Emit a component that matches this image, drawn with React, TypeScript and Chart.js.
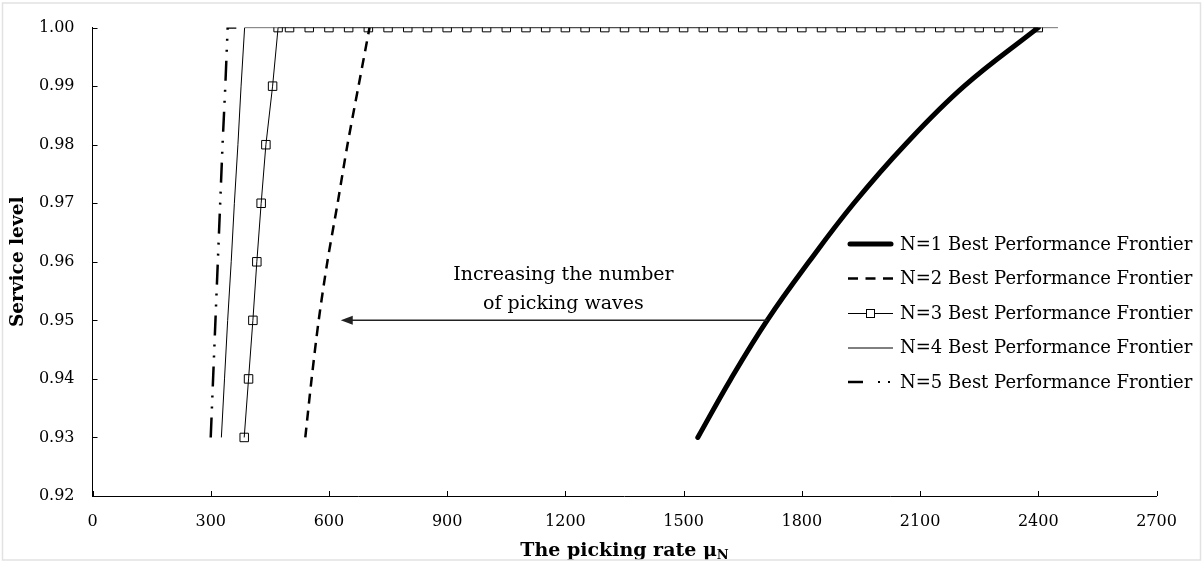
import React, { useEffect, useRef } from 'react';
import { Chart, registerables } from 'chart.js';

Chart.register(...registerables);

// ---- data ----
const serviceLevels = [0.93, 0.94, 0.95, 0.96, 0.97, 0.98, 0.99, 1.0];
const n1Rates = [1536, 1620, 1712, 1818, 1932, 2062, 2212, 2400];
const n2Rates = [540, 556, 574, 596, 622, 647, 675, 703];
const n3Rates = [385, 396, 407, 417, 428, 440, 457, 471];
const n3FlatRates = [
  500, 550, 600, 650, 700, 750, 800, 850, 900, 950, 1000, 1050, 1100, 1150,
  1200, 1250, 1300, 1350, 1400, 1450, 1500, 1550, 1600, 1650, 1700, 1750,
  1800, 1850, 1900, 1950, 2000, 2050, 2100, 2150, 2200, 2250, 2300, 2350, 2400,
];
const n4Rates = [327, 335, 343, 352, 360, 369, 377, 386];
const n4FlatEnd = [2450];
const n5Rates = [300, 306, 312, 318, 324, 330, 337, 343];
const n5FlatEnd = [365];
const fullLevel = 1.0;

const seriesLabels = [
  'N=1 Best Performance Frontier',
  'N=2 Best Performance Frontier',
  'N=3 Best Performance Frontier',
  'N=4 Best Performance Frontier',
  'N=5 Best Performance Frontier',
];
const xTicks = [0, 300, 600, 900, 1200, 1500, 1800, 2100, 2400, 2700];
const yTicks = [0.92, 0.93, 0.94, 0.95, 0.96, 0.97, 0.98, 0.99, 1.0];
const annotationLines = ['Increasing the number', 'of picking waves'];
const annotationPos = { x: 1195, y1: 0.9577, y2: 0.9528 };
const arrowLevel = 0.95;
const arrowHeadRate = 630;
const xTitle = 'The picking rate μ';
const xTitleSub = 'N';
const yTitle = 'Service level';

const FONT = 'DejaVu Serif';

const pts = (xs: number[], ys: number[]) => xs.map((x, i) => ({ x, y: ys[i] }));
const flat = (xs: number[]) => xs.map((x) => ({ x, y: fullLevel }));

const N5_DASH = [20, 9, 2, 9, 2, 9];

const decorPlugin = {
  id: 'decor',
  afterDraw(chart: any) {
    const { ctx, chartArea, scales } = chart;
    const xs = scales.x;
    const ys = scales.y;
    ctx.save();

    // inner tick marks
    ctx.strokeStyle = '#000';
    ctx.lineWidth = 1;
    ctx.setLineDash([]);
    xTicks.forEach((v) => {
      const px = Math.round(xs.getPixelForValue(v)) + 0.5;
      ctx.beginPath();
      ctx.moveTo(px, chartArea.bottom);
      ctx.lineTo(px, chartArea.bottom - 5);
      ctx.stroke();
    });
    yTicks.forEach((v) => {
      const py = Math.round(ys.getPixelForValue(v)) + 0.5;
      ctx.beginPath();
      ctx.moveTo(chartArea.left, py);
      ctx.lineTo(chartArea.left + 5, py);
      ctx.stroke();
    });

    // axis titles
    ctx.fillStyle = '#000';
    ctx.save();
    ctx.translate(18, (chartArea.top + chartArea.bottom) / 2);
    ctx.rotate(-Math.PI / 2);
    ctx.font = `bold 18.5px "${FONT}"`;
    ctx.textAlign = 'center';
    ctx.textBaseline = 'middle';
    ctx.fillText(yTitle, 0, 0);
    ctx.restore();

    ctx.font = `bold 19px "${FONT}"`;
    const mainW = ctx.measureText(xTitle).width;
    ctx.font = `bold 13px "${FONT}"`;
    const subW = ctx.measureText(xTitleSub).width;
    const cx = (chartArea.left + chartArea.right) / 2;
    const startX = cx - (mainW + subW) / 2;
    ctx.textAlign = 'left';
    ctx.textBaseline = 'alphabetic';
    ctx.font = `bold 19px "${FONT}"`;
    ctx.fillText(xTitle, startX, 556);
    ctx.font = `bold 13px "${FONT}"`;
    ctx.fillText(xTitleSub, startX + mainW, 559);

    // annotation text
    ctx.font = `19px "${FONT}"`;
    ctx.textAlign = 'center';
    ctx.textBaseline = 'middle';
    const ax = xs.getPixelForValue(annotationPos.x);
    ctx.fillText(annotationLines[0], ax, ys.getPixelForValue(annotationPos.y1));
    ctx.fillText(annotationLines[1], ax, ys.getPixelForValue(annotationPos.y2));

    // arrow
    const ay = ys.getPixelForValue(arrowLevel);
    const tailX = xs.getPixelForValue(n1Rates[serviceLevels.indexOf(arrowLevel)]);
    const headX = xs.getPixelForValue(arrowHeadRate);
    ctx.strokeStyle = '#222';
    ctx.fillStyle = '#222';
    ctx.lineWidth = 1.5;
    ctx.beginPath();
    ctx.moveTo(tailX, ay);
    ctx.lineTo(headX + 10, ay);
    ctx.stroke();
    ctx.beginPath();
    ctx.moveTo(headX, ay);
    ctx.lineTo(headX + 12, ay - 4.5);
    ctx.lineTo(headX + 12, ay + 4.5);
    ctx.closePath();
    ctx.fill();

    // legend
    const lx0 = 848;
    const lx1 = 893;
    ctx.strokeStyle = '#000';
    ctx.fillStyle = '#000';
    for (let i = 0; i < 5; i++) {
      const y = 244 + i * 34.5;
      ctx.setLineDash([]);
      ctx.lineCap = 'butt';
      if (i === 0) {
        ctx.lineWidth = 5;
        ctx.lineCap = 'round';
        ctx.beginPath();
        ctx.moveTo(lx0 + 2, y);
        ctx.lineTo(lx1 - 2, y);
        ctx.stroke();
      } else if (i === 1) {
        ctx.lineWidth = 2.5;
        ctx.setLineDash([10, 7.5]);
        ctx.beginPath();
        ctx.moveTo(lx0, y);
        ctx.lineTo(lx1, y);
        ctx.stroke();
      } else if (i === 2) {
        ctx.lineWidth = 1;
        ctx.beginPath();
        ctx.moveTo(lx0, y + 0.5);
        ctx.lineTo(lx1, y + 0.5);
        ctx.stroke();
        ctx.fillStyle = '#fff';
        ctx.fillRect(866.5, y - 3.5, 8, 8);
        ctx.strokeRect(866.5, y - 3.5, 8, 8);
        ctx.fillStyle = '#000';
      } else if (i === 3) {
        ctx.lineWidth = 1;
        ctx.beginPath();
        ctx.moveTo(lx0, y + 0.5);
        ctx.lineTo(lx1, y + 0.5);
        ctx.stroke();
      } else {
        ctx.lineWidth = 2.5;
        ctx.beginPath();
        ctx.moveTo(lx0, y);
        ctx.lineTo(lx0 + 15, y);
        ctx.stroke();
        ctx.fillRect(878, y - 1, 2, 2);
        ctx.fillRect(888, y - 1, 2, 2);
      }
      ctx.setLineDash([]);
      ctx.font = `18px "${FONT}"`;
      ctx.textAlign = 'left';
      ctx.textBaseline = 'middle';
      ctx.fillText(seriesLabels[i], 900, y + 1);
    }

    // outer frame
    ctx.strokeStyle = '#e2e2e2';
    ctx.lineWidth = 1.5;
    ctx.strokeRect(2.5, 3, 1198, 557);
    ctx.restore();
  },
};

export default function App() {
  const ref = useRef<HTMLCanvasElement | null>(null);

  useEffect(() => {
    document.body.style.margin = '0';
    if (!ref.current) return;
    const chart = new Chart(ref.current, {
      type: 'line',
      data: {
        datasets: [
          {
            label: seriesLabels[0],
            data: pts(n1Rates, serviceLevels),
            borderColor: '#000',
            borderWidth: 5,
            borderCapStyle: 'round',
            pointRadius: 0,
            tension: 0.4,
            fill: false,
          },
          {
            label: seriesLabels[1],
            data: pts(n2Rates, serviceLevels),
            borderColor: '#000',
            borderWidth: 2.5,
            borderDash: [10, 7],
            pointRadius: 0,
            tension: 0.3,
            fill: false,
          },
          {
            label: seriesLabels[2],
            data: [...pts(n3Rates, serviceLevels), ...flat(n3FlatRates)],
            borderColor: '#000',
            borderWidth: 1,
            pointStyle: 'rect',
            pointRadius: 6,
            pointBorderWidth: 1,
            pointBorderColor: '#000',
            pointBackgroundColor: 'rgba(0,0,0,0)',
            fill: false,
          },
          {
            label: seriesLabels[3],
            data: [...pts(n4Rates, serviceLevels), ...flat(n4FlatEnd)],
            borderColor: '#000',
            borderWidth: 1,
            pointRadius: 0,
            fill: false,
          },
          {
            label: seriesLabels[4],
            data: [...pts(n5Rates, serviceLevels), ...flat(n5FlatEnd)],
            borderColor: '#000',
            borderWidth: 2.5,
            borderDash: N5_DASH,
            pointRadius: 0,
            fill: false,
          },
        ],
      },
      options: {
        animation: false,
        responsive: false,
        devicePixelRatio: 1,
        layout: { padding: { left: 0, top: 23, right: 47.5, bottom: 0 } },
        plugins: {
          legend: { display: false },
          tooltip: { enabled: false },
        },
        scales: {
          x: {
            type: 'linear',
            min: 0,
            max: 2700,
            afterFit: (s: any) => {
              s.height = 68;
            },
            afterBuildTicks: (s: any) => {
              s.ticks = xTicks.map((v) => ({ value: v }));
            },
            ticks: {
              color: '#000',
              font: { family: FONT, size: 16 },
              padding: 16,
              maxRotation: 0,
              autoSkip: false,
              callback: (v: any) => String(v),
            },
            grid: { display: true, drawOnChartArea: false, drawTicks: false },
            border: { display: true, color: '#000', width: 1 },
          },
          y: {
            type: 'linear',
            min: 0.92,
            max: 1.0,
            afterFit: (s: any) => {
              s.width = 92.5;
            },
            afterBuildTicks: (s: any) => {
              s.ticks = yTicks.map((v) => ({ value: v }));
            },
            ticks: {
              color: '#000',
              font: { family: FONT, size: 16 },
              padding: 18,
              autoSkip: false,
              callback: (v: any) => Number(v).toFixed(2),
            },
            grid: { display: true, drawOnChartArea: false, drawTicks: false },
            border: { display: true, color: '#000', width: 1 },
          },
        },
      },
      plugins: [decorPlugin],
    } as any);
    return () => chart.destroy();
  }, []);

  return (
    <div style={{ position: 'fixed', left: 0, top: 0, width: 1204, height: 564, background: '#fff' }}>
      <canvas ref={ref} width={1204} height={564} />
    </div>
  );
}
